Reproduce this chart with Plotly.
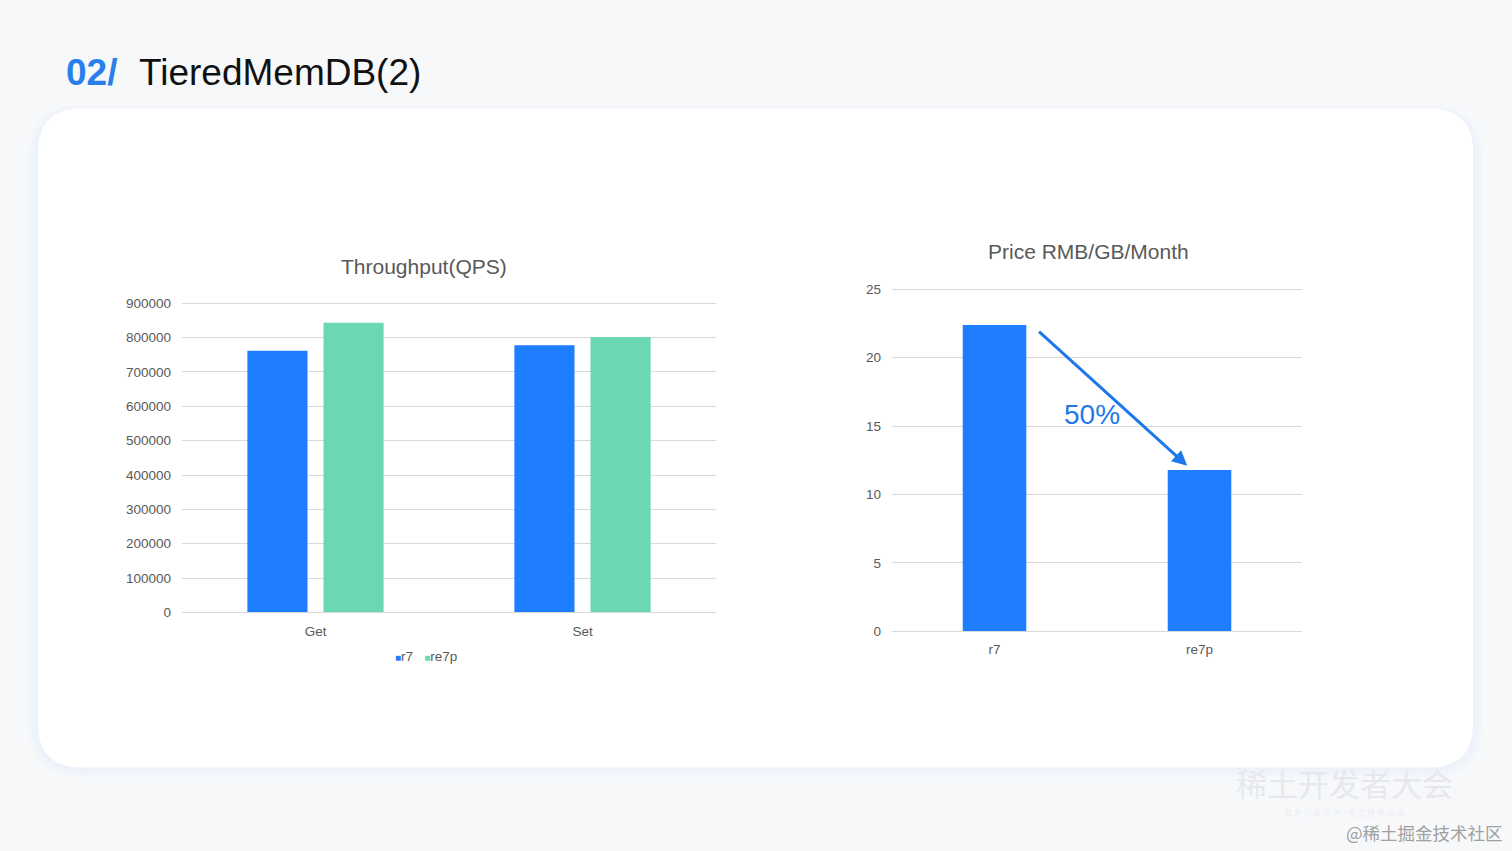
import plotly.graph_objects as go

# ---------------- data ----------------
ops = ["Get", "Set"]
r7_qps = [762000, 778000]
re7p_qps = [843000, 802000]

price_cats = ["r7", "re7p"]
price_vals = [22.4, 11.8]

qps_ticks = [0, 100000, 200000, 300000, 400000, 500000, 600000, 700000, 800000, 900000]
price_ticks = [0, 5, 10, 15, 20, 25]

BLUE = "#1f7dff"
GREEN = "#6ad9b2"
GRID = "#d9d9d9"
TXT = "#595959"
REF_H = 851
W, H = 1512, 859          # capture squeezes the page height to 851
DY = -2                   # small vertical nudge for chart block
HEAD = 1.007              # headroom so the top gridline is not clipped by plotly

fig = go.Figure()

fig.add_trace(go.Bar(x=ops, y=r7_qps, name="r7", marker=dict(color=BLUE, line=dict(width=0)),
                     xaxis="x", yaxis="y", showlegend=False))
fig.add_trace(go.Bar(x=ops, y=re7p_qps, name="re7p", marker=dict(color=GREEN, line=dict(width=0)),
                     xaxis="x", yaxis="y", showlegend=False))
fig.add_trace(go.Bar(x=price_cats, y=price_vals, name="price", marker=dict(color=BLUE, line=dict(width=0)),
                     width=0.31, xaxis="x2", yaxis="y2", showlegend=False))


def px_x(p):
    return p / W


def px_y(p):
    return 1 - p / REF_H


def rounded_rect(x0, y0, x1, y1, r):
    rx, ry = r / W, r / REF_H
    X0, X1 = px_x(x0), px_x(x1)
    Y0, Y1 = px_y(y0), px_y(y1)
    return (f"M {X0+rx},{Y0} L {X1-rx},{Y0} Q {X1},{Y0} {X1},{Y0-ry} "
            f"L {X1},{Y1+ry} Q {X1},{Y1} {X1-rx},{Y1} "
            f"L {X0+rx},{Y1} Q {X0},{Y1} {X0},{Y1+ry} "
            f"L {X0},{Y0-ry} Q {X0},{Y0} {X0+rx},{Y0} Z")


shapes = []
for i, col in enumerate(["#f2f5fa", "#eff3fa", "#edf2fa"]):
    g = 9 - i * 3
    shapes.append(dict(type="path", xref="paper", yref="paper", layer="below",
                       path=rounded_rect(38 - g, 105 - g + 5, 1473 + g, 767 + g, 44 + g),
                       fillcolor=col, line=dict(width=0)))
shapes.append(dict(type="path", xref="paper", yref="paper", layer="below",
                   path=rounded_rect(38, 104, 1473, 767, 44),
                   fillcolor="#ffffff", line=dict(width=0)))

sq = "<span style='color:{c};font-size:10px'>■</span>"
annotations = [
    dict(text="<b>02/</b>", x=px_x(64), y=px_y(68), xref="paper", yref="paper", xanchor="left", yanchor="middle",
         showarrow=False, font=dict(family="Liberation Sans", size=37, color="#2a7fea")),
    dict(text="TieredMemDB(2)", x=px_x(137), y=px_y(68), xref="paper", yref="paper", xanchor="left",
         yanchor="middle", showarrow=False, font=dict(family="Liberation Sans", size=37, color="#111111")),
    dict(text="Throughput(QPS)", x=px_x(424), y=px_y(265 + DY), xref="paper", yref="paper", xanchor="center",
         yanchor="middle", showarrow=False, font=dict(family="Liberation Sans", size=21, color=TXT)),
    dict(text="Price RMB/GB/Month", x=px_x(1088), y=px_y(250 + DY), xref="paper", yref="paper",
         xanchor="center", yanchor="middle", showarrow=False,
         font=dict(family="Liberation Sans", size=21, color=TXT)),
    dict(text=sq.format(c=BLUE) + "r7&nbsp;&nbsp;&nbsp;" + sq.format(c=GREEN) + "re7p",
         x=px_x(426), y=px_y(657 + DY), xref="paper", yref="paper", xanchor="center", yanchor="middle",
         showarrow=False, font=dict(family="Liberation Sans", size=13.5, color=TXT)),
    dict(x=0.94, y=12.1, ax=0.21, ay=22.0, xref="x2", yref="y2", axref="x2", ayref="y2",
         text="", showarrow=True, arrowhead=2, arrowsize=1.0, arrowwidth=3, arrowcolor="#1f78ea"),
    dict(text="50%", x=0.476, y=15.85, xref="x2", yref="y2", showarrow=False, xanchor="center",
         yanchor="middle", font=dict(family="Liberation Sans", size=28, color="#1f78ea")),
    dict(text="稀土开发者大会", x=px_x(1344), y=px_y(782), xref="paper", yref="paper", xanchor="center",
         yanchor="middle", showarrow=False, font=dict(family="Noto Sans CJK SC", size=31, color="#e6e8ec")),
    dict(text="激 发 万 有 引 力 / 塑 造 技 术 未 来", x=px_x(1344), y=px_y(812), xref="paper", yref="paper",
         xanchor="center", yanchor="middle", showarrow=False,
         font=dict(family="Noto Sans CJK SC", size=8, color="#eceef1")),
    dict(text="@稀土掘金技术社区", x=px_x(1505), y=px_y(832), xref="paper", yref="paper", xanchor="right",
         yanchor="middle", showarrow=False, font=dict(family="Noto Sans CJK SC", size=17.5, color="#a0a0a0")),
]

axis_font = dict(family="Liberation Sans", size=13.5, color=TXT)

q_top = qps_ticks[-1] * HEAD
p_top = price_ticks[-1] * HEAD
q_len = 613 - 302          # pixel span of 0..900000
p_len = 632 - 288          # pixel span of 0..25

fig.update_layout(
    width=W, height=H, autosize=False,
    margin=dict(l=0, r=0, t=0, b=0),
    paper_bgcolor="#f7f8fa", plot_bgcolor="rgba(0,0,0,0)",
    barmode="group", bargap=0.43, bargroupgap=0.21,
    showlegend=False,
    shapes=shapes, annotations=annotations,
    xaxis=dict(domain=[px_x(182), px_x(716)], showgrid=False, showline=True, linecolor=GRID, linewidth=1,
               zeroline=False, tickfont=axis_font, ticks="", ticklabelstandoff=6, fixedrange=True),
    yaxis=dict(domain=[px_y(613 + DY), px_y(613 + DY - q_len * HEAD)], range=[0, q_top], tickvals=qps_ticks,
               ticktext=[str(v) for v in qps_ticks], showgrid=True, gridcolor=GRID, gridwidth=1,
               zeroline=False, showline=False, tickfont=axis_font, ticks="", ticklabelstandoff=10,
               fixedrange=True),
    xaxis2=dict(domain=[px_x(892), px_x(1302)], anchor="y2", showgrid=False, showline=True, linecolor=GRID,
                linewidth=1, zeroline=False, tickfont=axis_font, ticks="", ticklabelstandoff=6,
                range=[-0.5, 1.5], fixedrange=True),
    yaxis2=dict(domain=[px_y(632 + DY), px_y(632 + DY - p_len * HEAD)], anchor="x2", range=[0, p_top],
                tickvals=price_ticks, showgrid=True, gridcolor=GRID, gridwidth=1, zeroline=False,
                showline=False, tickfont=axis_font, ticks="", ticklabelstandoff=10, fixedrange=True),
)

fig.write_html("out.html", config={"displayModeBar": False},
               post_script="document.body.style.margin='0';document.body.style.overflow='hidden';")
